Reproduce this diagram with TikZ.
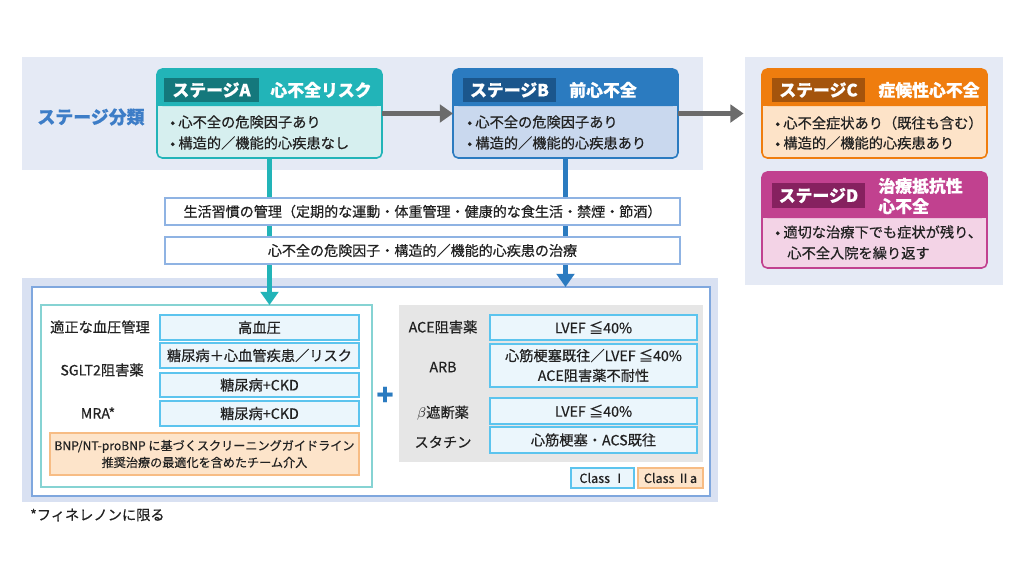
\documentclass[tikz,border=0pt]{standalone}
\usepackage{fontspec}
\setmainfont{Noto Sans CJK JP}[FakeBold=0.5]
\usetikzlibrary{arrows.meta,fit}

\definecolor{bandbg}{HTML}{E5EAF5}
\definecolor{panelbg}{HTML}{D9E1F2}
\definecolor{labelblue}{HTML}{3D7DC7}
\definecolor{Amain}{HTML}{22B4B8}
\definecolor{Adark}{HTML}{14787C}
\definecolor{Alight}{HTML}{D6EFEF}
\definecolor{Bmain}{HTML}{2B7BC0}
\definecolor{Bdark}{HTML}{1B568C}
\definecolor{Blight}{HTML}{C9D8EE}
\definecolor{Cmain}{HTML}{EF7D0E}
\definecolor{Cdark}{HTML}{A4540C}
\definecolor{Clight}{HTML}{FDE3C8}
\definecolor{Dmain}{HTML}{C1418F}
\definecolor{Ddark}{HTML}{86215F}
\definecolor{Dlight}{HTML}{F3D3E6}
\definecolor{arrowgray}{HTML}{6B6B6B}
\definecolor{lifeline}{HTML}{8FB3E3}
\definecolor{wline}{HTML}{7FA7DE}
\definecolor{lline}{HTML}{86D3D3}
\definecolor{cellline}{HTML}{5CC4EE}
\definecolor{cellfill}{HTML}{EBF6FC}
\definecolor{grayp}{HTML}{E6E6E6}
\definecolor{noteline}{HTML}{F7BC84}
\definecolor{notefill}{HTML}{FDE4CA}
\definecolor{textc}{HTML}{222222}

\newcommand{\hdfont}{\fontsize{9.6}{11.5}\selectfont\bfseries}

\begin{document}
\begin{tikzpicture}[x=0.02cm,y=-0.02cm,
  every node/.style={font=\fontsize{8.1}{11.3}\selectfont, text=textc},
  frame/.style={fit={#1}, inner sep=0pt, outer sep=0pt},
  ctext/.style 2 args={label={[align=center, #1]center:{#2}}},
  txt/.style={ctext={}{#1}},
  stagebox/.style={fill=#1, rounded corners=3pt},
  tag/.style 2 args={fill=#1, ctext={text=white, font=\hdfont}{#2}},
  head/.style={text=white, font=\hdfont},
  item/.style={anchor=west, inner sep=0pt},
  cell/.style={draw=cellline, fill=cellfill, line width=0.9pt},
  note/.style={draw=noteline, fill=notefill, line width=0.9pt},
  lifebox/.style={draw=lifeline, fill=white, line width=0.9pt},
  flow/.style={line width=3.4pt, -{Triangle[width=10pt,length=7.5pt]}}]
  \useasboundingbox (0,0) rectangle (1024,576);

  % backgrounds
  \fill[bandbg] (22,57) rectangle (703,170);
  \fill[bandbg] (745,57) rectangle (1003,285);
  \fill[panelbg] (22,278) rectangle (718,502);

  \node[font=\fontsize{10.2}{12}\selectfont\bfseries, text=labelblue] (cls) at (91,117) {ステージ分類};

  % stage A
  \node[frame={(157,69)(382,158)}, stagebox=Alight] (A) {};
  \fill[Amain, rounded corners=3pt] (157,69) rectangle (382,106);
  \fill[Amain] (157,96) rectangle (382,106);
  \draw[Amain, line width=0.9pt, rounded corners=3pt] (A.north west) rectangle (A.south east);
  \node[frame={(164,78)(259,102)}, tag={Adark}{ステージA}] (Atag) {};
  \node[head] (Ahead) at (321,90) {心不全リスク};
  \node[item] (Aitem1) at (170,122) {• 心不全の危険因子あり};
  \node[item] (Aitem2) at (170,143) {• 構造的／機能的心疾患なし};

  % stage B
  \node[frame={(453,69)(678,158)}, stagebox=Blight] (B) {};
  \fill[Bmain, rounded corners=3pt] (453,69) rectangle (678,106);
  \fill[Bmain] (453,96) rectangle (678,106);
  \draw[Bmain, line width=0.9pt, rounded corners=3pt] (B.north west) rectangle (B.south east);
  \node[frame={(463,78)(556,102)}, tag={Bdark}{ステージB}] (Btag) {};
  \node[head] (Bhead) at (603,90) {前心不全};
  \node[item] (Bitem1) at (467,122) {• 心不全の危険因子あり};
  \node[item] (Bitem2) at (467,143) {• 構造的／機能的心疾患あり};

  % stage C
  \node[frame={(762,69)(987,158)}, stagebox=Clight] (C) {};
  \fill[Cmain, rounded corners=3pt] (762,69) rectangle (987,106);
  \fill[Cmain] (762,96) rectangle (987,106);
  \draw[Cmain, line width=0.9pt, rounded corners=3pt] (C.north west) rectangle (C.south east);
  \node[frame={(772,78)(865,102)}, tag={Cdark}{ステージC}] (Ctag) {};
  \node[head] (Chead) at (929,90) {症候性心不全};
  \node[item] (Citem1) at (775,123) {• 心不全症状あり（既往も含む）};
  \node[item] (Citem2) at (775,143) {• 構造的／機能的心疾患あり};

  % stage D
  \node[frame={(762,172)(987,268)}, stagebox=Dlight] (D) {};
  \fill[Dmain, rounded corners=3pt] (762,172) rectangle (987,218);
  \fill[Dmain] (762,208) rectangle (987,218);
  \draw[Dmain, line width=0.9pt, rounded corners=3pt] (D.north west) rectangle (D.south east);
  \node[frame={(772,183)(865,208)}, tag={Ddark}{ステージD}] (Dtag) {};
  \node[head, anchor=west, align=left, inner sep=0pt] (Dhead) at (878,196) {治療抵抗性\\心不全};
  \node[item] (Ditem1) at (775,232) {• 適切な治療下でも症状が残り、};
  \node[item] (Ditem2) at (787,253) {心不全入院を繰り返す};

  % treatment panels
  \node[frame={(32,287)(710,496)}, draw=wline, fill=white, line width=1.2pt] (wpanel) {};
  \node[frame={(41,305)(372,487)}, draw=lline, line width=0.9pt] (lpanel) {};
  \node[frame={(399,305)(703,462)}, fill=grayp] (rpanel) {};

  \node (l1) at (100,327) {適正な血圧管理};
  \node (l2) at (102,370) {SGLT2阻害薬};
  \node (l3) at (98,413) {MRA*};
  \node[cell, frame={(160,315)(359,340)}, txt={高血圧}] (v1) {};
  \node[cell, frame={(160,343)(359,368)}, txt={糖尿病＋心血管疾患／リスク}] (v2) {};
  \node[cell, frame={(160,373)(359,397)}, txt={糖尿病+CKD}] (v3) {};
  \node[cell, frame={(160,401)(359,426)}, txt={糖尿病+CKD}] (v4) {};
  \node[note, frame={(50,433)(359,475)}, ctext={font=\fontsize{6.9}{9.6}\selectfont}{BNP/NT-proBNP に基づくスクリーニングガイドライン\\推奨治療の最適化を含めたチーム介入}] (nt) {};

  \node[text=Bmain, font=\fontsize{16}{16}\selectfont\bfseries] (plus) at (385,396) {+};

  \node (r1) at (443,327) {ACE阻害薬};
  \node (r2) at (443,367) {ARB};
  \node (r3) at (443,413) {$\beta$遮断薬};
  \node (r4) at (443,442) {スタチン};
  \node[cell, frame={(490,315)(697,340)}, txt={LVEF ≦40\%}] (w1) {};
  \node[cell, frame={(490,344)(697,387)}, txt={心筋梗塞既往／LVEF ≦40\%\\ACE阻害薬不耐性}] (w2) {};
  \node[cell, frame={(490,398)(697,424)}, txt={LVEF ≦40\%}] (w3) {};
  \node[cell, frame={(490,427)(697,453)}, txt={心筋梗塞・ACS既往}] (w4) {};

  \node[cell, frame={(571,468)(634,488)}, ctext={font=\fontsize{7.2}{8}\selectfont}{Class Ⅰ}] (cls1) {};
  \node[note, frame={(638,468)(703,488)}, ctext={font=\fontsize{7.2}{8}\selectfont}{Class Ⅱa}] (cls2) {};

  \node[anchor=west] (fn) at (24,515) {*フィネレノンに限る};

  % connectors
  \draw[flow, arrowgray] (A.east) -- (B.west);
  \draw[flow, arrowgray, shorten >=10.5pt] (B.east) -- (C.west);
  \draw[flow, Amain] (A.south) -- (A.south |- lpanel.north);
  \draw[flow, Bmain] (B.south) -- (B.south |- wpanel.north);

  \node[lifebox, frame={(165,198)(680,225)}, ctext={font=\fontsize{8}{10}\selectfont}{生活習慣の管理（定期的な運動・体重管理・健康的な食生活・禁煙・節酒）}] (life) {};
  \node[lifebox, frame={(165,237)(680,264)}, ctext={font=\fontsize{8}{10}\selectfont}{心不全の危険因子・構造的／機能的心疾患の治療}] (treat) {};
\end{tikzpicture}
\end{document}
